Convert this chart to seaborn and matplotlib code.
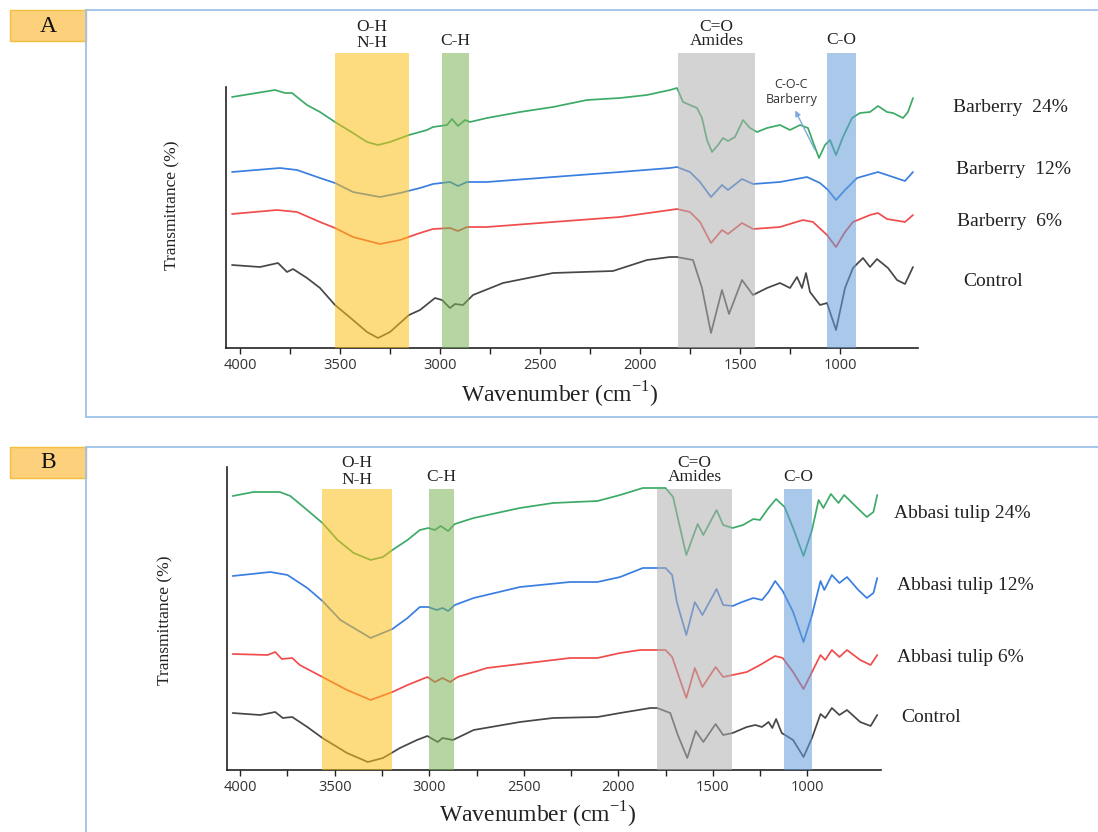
import matplotlib
matplotlib.use('Agg')
import matplotlib.pyplot as plt
from matplotlib.patches import Rectangle
from matplotlib.lines import Line2D
import seaborn as sns

# ---- panel A : Barberry (wavenumber cm-1, transmittance in arbitrary units) ----
A_24_WN = [4040, 3825, 3775, 3740, 3665, 3600, 3525, 3435, 3365, 3310, 3250, 3155, 3065, 3035, 2965,
           2940, 2910, 2875, 2850, 2765, 2600, 2435, 2265, 2100, 1965, 1850, 1815, 1785, 1750, 1715,
           1690, 1665, 1640, 1610, 1585, 1560, 1525, 1485, 1450, 1415, 1365, 1300, 1250, 1200, 1160,
           1135, 1105, 1075, 1050, 1020, 985, 940, 900, 850, 810, 765, 735, 685, 660, 635]
A_24_T = [251, 258, 255, 255, 243, 236, 226, 215, 206, 203, 206, 213, 218, 221, 223,
          229, 222, 228, 226, 230, 236, 241, 248, 250, 253, 258, 260, 246, 243, 240,
          230, 208, 196, 203, 210, 207, 211, 228, 220, 216, 220, 223, 218, 223, 220,
          206, 190, 203, 208, 193, 211, 230, 235, 236, 242, 236, 235, 230, 236, 250]

A_12_WN = [4040, 3800, 3715, 3600, 3525, 3435, 3300, 3200, 3100, 3035, 2950, 2910, 2865, 2765, 2435,
           2100, 1850, 1815, 1750, 1700, 1645, 1590, 1560, 1490, 1435, 1300, 1165, 1100, 1060, 1020,
           975, 915, 810, 735, 675, 635]
A_12_T = [176, 180, 178, 170, 165, 156, 151, 155, 160, 164, 166, 162, 166, 166, 171,
          176, 180, 181, 176, 166, 151, 163, 158, 169, 164, 166, 171, 165, 158, 148,
          158, 170, 176, 171, 167, 176]

A_6_WN = [4040, 3815, 3715, 3600, 3525, 3435, 3300, 3200, 3100, 3035, 2950, 2910, 2865, 2765, 2435,
          2100, 1850, 1815, 1750, 1700, 1645, 1590, 1560, 1490, 1435, 1300, 1185, 1135, 1065, 1020,
          975, 935, 850, 810, 765, 675, 635]
A_6_T = [134, 138, 136, 126, 120, 111, 104, 108, 115, 119, 120, 117, 121, 121, 126,
         131, 138, 139, 136, 126, 105, 118, 114, 125, 119, 121, 128, 126, 113, 101,
         116, 126, 133, 135, 129, 126, 133]

A_C_WN = [4040, 3900, 3810, 3765, 3735, 3665, 3600, 3525, 3435, 3365, 3310, 3250, 3155, 3100, 3025,
          2990, 2950, 2925, 2885, 2835, 2685, 2435, 2135, 1965, 1850, 1815, 1735, 1690, 1645, 1590,
          1555, 1490, 1435, 1365, 1300, 1250, 1215, 1190, 1170, 1150, 1100, 1065, 1020, 975, 935,
          885, 850, 815, 760, 715, 675, 635]
A_C_T = [83, 81, 85, 76, 79, 70, 60, 43, 28, 16, 10, 16, 33, 38, 50,
         48, 40, 44, 43, 53, 65, 75, 77, 88, 91, 91, 88, 60, 15, 58,
         34, 68, 53, 60, 65, 60, 71, 60, 75, 56, 43, 45, 18, 60, 80,
         90, 81, 89, 80, 68, 64, 81]

# ---- panel B : Abbasi tulip ----
B_24_WN = [4040, 3930, 3790, 3735, 3665, 3565, 3485, 3400, 3310, 3245, 3195, 3115, 3050, 3005, 2970,
           2940, 2900, 2865, 2765, 2520, 2345, 2110, 1990, 1870, 1750, 1710, 1685, 1640, 1580, 1550,
           1480, 1445, 1395, 1340, 1285, 1250, 1205, 1165, 1120, 1075, 1020, 975, 940, 915, 875,
           835, 805, 735, 685, 650, 630]
B_24_T = [274, 278, 278, 274, 263, 247, 230, 217, 210, 213, 220, 230, 240, 242, 240,
          244, 239, 246, 252, 262, 267, 269, 275, 282, 282, 273, 252, 215, 246, 235,
          260, 245, 242, 245, 251, 250, 262, 271, 263, 242, 214, 240, 270, 262, 276,
          267, 275, 262, 253, 258, 275]

B_12_WN = [4040, 3840, 3750, 3645, 3565, 3470, 3310, 3195, 3115, 3050, 3005, 2960, 2930, 2900, 2865,
           2765, 2520, 2255, 2110, 1990, 1870, 1750, 1715, 1690, 1640, 1595, 1555, 1480, 1445, 1395,
           1345, 1285, 1240, 1205, 1170, 1130, 1075, 1020, 975, 930, 910, 870, 830, 790, 730,
           685, 650, 630]
B_12_T = [194, 198, 195, 182, 169, 150, 132, 141, 152, 163, 163, 160, 162, 159, 165,
          172, 183, 188, 188, 193, 202, 202, 195, 168, 135, 168, 155, 181, 165, 164,
          168, 172, 170, 178, 189, 179, 158, 128, 155, 189, 180, 195, 187, 193, 180,
          172, 177, 192]

B_6_WN = [4040, 3855, 3815, 3780, 3725, 3685, 3565, 3435, 3310, 3195, 3115, 3010, 2970, 2930, 2890,
          2850, 2695, 2255, 2110, 1990, 1885, 1750, 1715, 1640, 1595, 1555, 1485, 1445, 1395, 1320,
          1250, 1170, 1130, 1075, 1020, 975, 930, 905, 870, 830, 790, 720, 665, 630]
B_6_T = [116, 115, 118, 111, 112, 105, 93, 80, 70, 78, 85, 93, 88, 92, 88,
         93, 102, 112, 112, 117, 120, 120, 113, 72, 102, 83, 103, 93, 95, 98,
         105, 114, 112, 98, 81, 98, 115, 110, 120, 113, 120, 110, 105, 115]

B_C_WN = [4040, 3895, 3815, 3775, 3725, 3645, 3565, 3435, 3325, 3245, 3155, 3065, 3010, 2955, 2930,
          2875, 2765, 2520, 2345, 2110, 1990, 1830, 1795, 1725, 1685, 1635, 1590, 1550, 1485, 1445,
          1395, 1320, 1275, 1240, 1205, 1185, 1165, 1135, 1075, 1020, 975, 930, 905, 870, 830,
          790, 720, 665, 630]
B_C_T = [57, 55, 58, 52, 53, 43, 32, 17, 8, 12, 22, 30, 34, 28, 32,
         30, 40, 48, 52, 53, 57, 62, 62, 57, 35, 12, 39, 28, 46, 35,
         37, 43, 45, 43, 48, 42, 51, 37, 30, 13, 32, 56, 52, 62, 55,
         60, 48, 44, 55]

A_LABELS = ['Barberry  24%', 'Barberry  12%', 'Barberry  6%', 'Control']
B_LABELS = ['Abbasi tulip 24%', 'Abbasi tulip 12%', 'Abbasi tulip 6%', 'Control']

A_BANDS = [(3525, 3155), (2990, 2855), (1810, 1425), (1065, 920)]
B_BANDS = [(3570, 3195), (3000, 2868), (1795, 1398), (1122, 974)]
BAND_COLORS = ['#fdbe16', '#7ab356', '#afafaf', '#639bd9']

LINE_COLORS = ['#3daa68', '#3a7ee0', '#f04c4c', '#474747']
TICKS = [4000, 3500, 3000, 2500, 2000, 1500, 1000]

W, H = 1098, 832

sns.set_style('ticks')
plt.rcParams['font.family'] = ['Liberation Serif', 'DejaVu Serif']
plt.rcParams['mathtext.fontset'] = 'custom'
plt.rcParams['mathtext.rm'] = 'Liberation Serif'

fig = plt.figure(figsize=(W / 100, H / 100), dpi=100)


def fx(x):
    return x / W


def fy(y):
    return 1 - y / H


def px_rect(left, top, right, bottom):
    return [fx(left), fy(bottom), (right - left) / W, (bottom - top) / H]


def draw_panel(ax, series, bands, band_top, spine_top, ymax):
    for (wn, t), c in zip(series, LINE_COLORS):
        sns.lineplot(x=wn, y=t, ax=ax, color=c, lw=1.25, legend=False, zorder=2)
    for (b0, b1), c in zip(bands, BAND_COLORS):
        ax.axvspan(b1, b0, ymin=0, ymax=band_top, color=c, alpha=0.55, lw=0, zorder=3)
    ax.set_xlim(4070, 610)
    ax.set_ylim(0, ymax)
    ax.set_xticks(TICKS)
    ax.set_xticks(range(1250, 4001, 250), minor=True)
    ax.set_xticklabels([str(t) for t in TICKS], family='Open Sans', fontsize=10.5, color='#333333')
    ax.set_yticks([])
    ax.tick_params(which='both', direction='out', length=4, width=1, color='#222222', pad=3)
    sns.despine(ax=ax)
    ax.spines['left'].set_bounds(0, spine_top)
    ax.spines['left'].set_color('#222222')
    ax.spines['bottom'].set_color('#222222')
    ax.spines['left'].set_linewidth(1.2)
    ax.spines['bottom'].set_linewidth(1.2)
    ax.set_xlabel('')
    ax.set_ylabel('')


# panel A
axA = fig.add_axes(px_rect(226, 53, 918, 348))
draw_panel(axA, [(A_24_WN, A_24_T), (A_12_WN, A_12_T), (A_6_WN, A_6_T), (A_C_WN, A_C_T)],
           A_BANDS, 1.0, 261, 295)

# panel B
axB = fig.add_axes(px_rect(227, 467, 881, 770))
draw_panel(axB, [(B_24_WN, B_24_T), (B_12_WN, B_12_T), (B_6_WN, B_6_T), (B_C_WN, B_C_T)],
           B_BANDS, 281 / 303, 303, 303)

# band labels
lab_kw = dict(ha='center', va='center', fontsize=12.5, color='#222222')
trA = axA.get_xaxis_transform()
trB = axB.get_xaxis_transform()
mid = [(b0 + b1) / 2 for b0, b1 in A_BANDS]
axA.text(mid[0], 1.088, 'O-H', transform=trA, **lab_kw)
axA.text(mid[0], 1.034, 'N-H', transform=trA, **lab_kw)
axA.text(mid[1], 1.041, 'C-H', transform=trA, **lab_kw)
axA.text(mid[2], 1.088, 'C=O', transform=trA, **lab_kw)
axA.text(mid[2], 1.041, 'Amides', transform=trA, **lab_kw)
axA.text(mid[3], 1.044, 'C-O', transform=trA, **lab_kw)
mid = [(b0 + b1) / 2 for b0, b1 in B_BANDS]
axB.text(mid[0], 1.013, 'O-H', transform=trB, **lab_kw)
axB.text(mid[0], 0.957, 'N-H', transform=trB, **lab_kw)
axB.text(mid[1], 0.967, 'C-H', transform=trB, **lab_kw)
axB.text(mid[2], 1.013, 'C=O', transform=trB, **lab_kw)
axB.text(mid[2], 0.967, 'Amides', transform=trB, **lab_kw)
axB.text(mid[3], 0.967, 'C-O', transform=trB, **lab_kw)

# C-O-C annotation
fig.text(fx(791), fy(85), 'C-O-C', ha='center', va='center', family='Open Sans', fontsize=9, color='#333333')
fig.text(fx(792), fy(99), 'Barberry', ha='center', va='center', family='Open Sans', fontsize=9, color='#333333')
axA.annotate('', xy=(fx(794), fy(108)), xytext=(fx(816), fy(152)),
             xycoords='figure fraction', textcoords='figure fraction',
             arrowprops=dict(arrowstyle='-|>', color='#7eaadc', lw=1, mutation_scale=8))

# series labels
for lab, (x, y) in zip(A_LABELS, [(953, 108), (956, 170), (957, 222), (963, 281)]):
    fig.text(fx(x), fy(y), lab, ha='left', va='center', fontsize=14, color='#222222')
for lab, (x, y) in zip(B_LABELS, [(894, 513), (897, 585), (897, 657), (901, 717)]):
    fig.text(fx(x), fy(y), lab, ha='left', va='center', fontsize=14, color='#222222')

# axis titles
xlab = 'Wavenumber (cm$^{\\mathregular{-1}}$)'
fig.text(fx(560), fy(395), xlab, ha='center', va='center', fontsize=17, color='#222222')
fig.text(fx(538), fy(815), xlab, ha='center', va='center', fontsize=17, color='#222222')
fig.text(fx(172), fy(205), 'Transmittance (%)', rotation=90, ha='center', va='center', fontsize=12.5, color='#222222')
fig.text(fx(165), fy(620), 'Transmittance (%)', rotation=90, ha='center', va='center', fontsize=12.5, color='#222222')

# panel frames and tags
frame_c = '#9cc2e8'
fig.add_artist(Line2D([fx(86), 1], [fy(10), fy(10)], color=frame_c, lw=1.3))
fig.add_artist(Line2D([fx(86), fx(86)], [fy(10), fy(417)], color=frame_c, lw=1.3))
fig.add_artist(Line2D([fx(86), 1], [fy(417), fy(417)], color=frame_c, lw=1.3))
fig.add_artist(Line2D([fx(86), 1], [fy(447), fy(447)], color=frame_c, lw=1.3))
fig.add_artist(Line2D([fx(86), fx(86)], [fy(447), 0], color=frame_c, lw=1.3))

for tag, top in [('A', 10), ('B', 447)]:
    fig.add_artist(Rectangle((fx(10), fy(top + 31)), 76 / W, 31 / H, transform=fig.transFigure,
                             facecolor='#fdd07c', edgecolor='#f5bd3c', lw=1))
    fig.text(fx(48), fy(top + 16), tag, ha='center', va='center', fontsize=17, color='#111111')

fig.savefig('out.png', dpi=100)
